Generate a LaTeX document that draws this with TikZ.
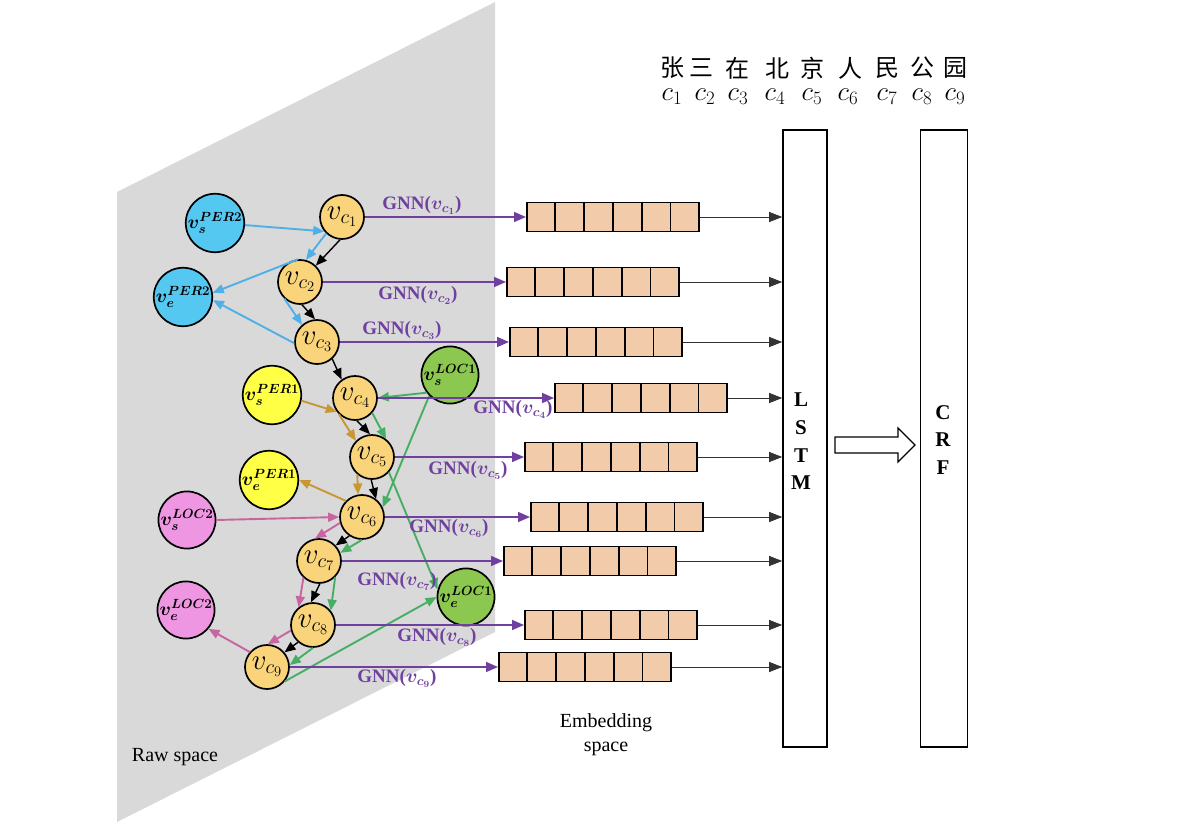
\RequirePackage{fix-cm}
\documentclass[tikz,border=0pt]{standalone}
\usepackage{amsmath}
\usepackage{fontspec}
\setmainfont{Liberation Serif}
\newfontfamily\cjk{Noto Sans CJK SC}
\usetikzlibrary{arrows.meta,calc}
\definecolor{graybg}{RGB}{217,217,217}
\definecolor{cfill}{RGB}{250,212,122}
\definecolor{cyanf}{RGB}{85,200,242}
\definecolor{yelf}{RGB}{255,255,70}
\definecolor{greenf}{RGB}{140,200,80}
\definecolor{pinkf}{RGB}{238,150,225}
\definecolor{boxf}{RGB}{242,203,170}
\definecolor{purp}{RGB}{112,64,160}
\definecolor{eblue}{RGB}{80,175,230}
\definecolor{egold}{RGB}{200,150,50}
\definecolor{egreen}{RGB}{70,175,100}
\definecolor{epink}{RGB}{200,100,160}
\tikzset{
  cn/.style={circle,draw,line width=1.7pt,fill=cfill,minimum size=44pt,inner sep=0pt,font=\fontsize{29}{30}\selectfont},
  en/.style={circle,draw,line width=1.7pt,minimum size=53pt,inner sep=0pt,font=\fontsize{19}{22}\selectfont},
  gnn/.style={text=purp,font=\bfseries\fontsize{19}{22}\selectfont,inner sep=0pt},
  emb/.style={draw,line width=1.6pt,fill=boxf,minimum width=172pt,minimum height=29pt,inner sep=0pt,anchor=west},
  tip/.style={-{Triangle[length=11pt,width=9pt]}},
  pa/.style={-{Triangle[length=12pt,width=10pt]},draw=purp,line width=1.6pt},
  ba/.style={tip,draw=black,line width=1.4pt},
  bl/.style={tip,draw=eblue,line width=1.9pt},
  go/.style={tip,draw=egold,line width=1.9pt},
  gr/.style={tip,draw=egreen,line width=1.9pt},
  pk/.style={tip,draw=epink,line width=1.9pt},
  la/.style={-{Triangle[length=13pt,width=10pt]},draw=black!80,line width=0.9pt},
  big/.style={draw,line width=1.6pt,minimum width=44pt,minimum height=617pt,inner sep=0pt},
  txt/.style={font=\fontsize{20}{24}\selectfont,inner sep=0pt},
  lt/.style={font=\bfseries\fontsize{21}{27.7}\selectfont,align=center,inner sep=0pt},
  hz/.style={font=\cjk\fontsize{24}{26}\selectfont,inner sep=0pt},
  ci/.style={font=\fontsize{27}{28}\selectfont,inner sep=0pt}
}
\begin{document}
\begin{tikzpicture}[x=1pt,y=-1pt]
\useasboundingbox (0,0) rectangle (1194,826);
\fill[graybg] (117,192) -- (495,2) -- (495,632) -- (117,822) -- cycle;

% character nodes
\node[cn] (c1) at (342,217) {$v_{c_1}$};
\node[cn] (c2) at (300,282) {$v_{c_2}$};
\node[cn] (c3) at (317,342) {$v_{c_3}$};
\node[cn] (c4) at (355,398) {$v_{c_4}$};
\node[cn] (c5) at (372,457) {$v_{c_5}$};
\node[cn] (c6) at (362,517) {$v_{c_6}$};
\node[cn] (c7) at (319,561) {$v_{c_7}$};
\node[cn] (c8) at (313,625) {$v_{c_8}$};
\node[cn] (c9) at (267,667) {$v_{c_9}$};

% entity nodes
\node[en,fill=cyanf] (sP2) at (215,223) {$\boldsymbol{v_s^{PER2}}$};
\node[en,fill=cyanf] (eP2) at (183,297) {$\boldsymbol{v_e^{PER2}}$};
\node[en,fill=yelf] (sP1) at (272,395) {$\boldsymbol{v_s^{PER1}}$};
\node[en,fill=yelf] (eP1) at (269,480) {$\boldsymbol{v_e^{PER1}}$};
\node[en,fill=greenf,minimum size=51pt] (sL1) at (450,375) {$\boldsymbol{v_s^{LOC1}}$};
\node[en,fill=greenf,minimum size=51pt] (eL1) at (466,597) {$\boldsymbol{v_e^{LOC1}}$};
\node[en,fill=pinkf,minimum size=55pt] (sL2) at (187,520) {$\boldsymbol{v_s^{LOC2}}$};
\node[en,fill=pinkf,minimum size=55pt] (eL2) at (186,610) {$\boldsymbol{v_e^{LOC2}}$};

% black sequence edges
\draw[ba] (c1.265) -- (c2.46);
\draw[ba] (c2.275) -- (c3.95);
\draw[ba] (c3.312) -- (c4.126);
\draw[ba] (c4.275) -- (c5.95);
\draw[ba] (c5.268) -- (c6.52);
\draw[ba] (c6.236) -- (c7.43);
\draw[ba] (c7.272) -- (c8.95);
\draw[ba] (c8.229) -- (c9.40);

% PER2 (blue)
\draw[bl] (sP2.356) -- (c1.219);
\draw[bl] (c1.226) -- (c2.75);
\draw[bl] (c2.95) -- (eP2.8);
\draw[bl] (c2.227) -- (c3.131);
\draw[bl] (c3.183) -- (eP2.-6);

% PER1 (gold)
\draw[go] (sP1.-11) -- (c4.217);
\draw[go] (c4.225) -- (c5.135);
\draw[go] (c5.230) -- (c6.100);
\draw[go] (c6.135) -- (eP1.0);

% LOC1 (green)
\draw[gr] (sL1.217) -- (c4.0);
\draw[gr] (sL1.225) -- (c6.25);
\draw[gr] (c4.319) -- (c5.52);
\draw[gr] (c5.318) -- (eL1.165);
\draw[gr] (c6.270) -- (c7.21);
\draw[gr] (c7.315) -- (c8.39);
\draw[gr] (c8.270) -- (c9.5);
\draw[gr] (c9.321) -- (eL1.180);

% LOC2 (pink)
\draw[pk] (sL2.east) -- (c6.180);
\draw[pk] (c6.195) -- (c7.100);
\draw[pk] (c7.227) -- (c8.129);
\draw[pk] (c8.194) -- (c9.88);
\draw[pk] (c9.139) -- (eL2.320);

% embedding boxes
\node[emb] (b1) at (526,217) {};
\node[emb] (b2) at (506,282) {};
\node[emb] (b3) at (509,342) {};
\node[emb] (b4) at (554,398) {};
\node[emb] (b5) at (524,457) {};
\node[emb] (b6) at (530,517) {};
\node[emb] (b7) at (503,561) {};
\node[emb] (b8) at (524,625) {};
\node[emb] (b9) at (498,667) {};
\foreach \i in {1,...,9}{
  \foreach \k in {1,...,5}{
    \draw[line width=1.6pt] ($(b\i.north west)!\k/6!(b\i.north east)$) -- ($(b\i.south west)!\k/6!(b\i.south east)$);
  }
}

% LSTM and CRF
\node[big] (lstm) at (805,438.5) {};
\node[big,minimum width=47pt] (crf) at (944,438.5) {};
\node[lt] (lstmtxt) at (801,441.5) {L\\S\\T\\M};
\node[lt] (crftxt) at (943,440) {C\\R\\F};
\coordinate (ha) at (835,445);
\draw[line width=1.2pt,fill=white] (ha) ++(0,-8) -- ++(63,0) -- ++(0,-9) -- (915,445) -- (898,462) -- ++(0,-9) -- ++(-63,0) -- cycle;

% GNN arrows
\foreach \i in {1,...,9}{
  \draw[pa] (c\i.east) -- (b\i.west);
  \draw[la] (b\i.east) -- (b\i.east -| lstm.west);
}
\node[gnn] (g1) at (422,205) {GNN($\boldsymbol{v_{c_1}}$)};
\node[gnn] (g2) at (418,295) {GNN($\boldsymbol{v_{c_2}}$)};
\node[gnn] (g3) at (402,330) {GNN($\boldsymbol{v_{c_3}}$)};
\node[gnn] (g4) at (513,409) {GNN($\boldsymbol{v_{c_4}}$)};
\node[gnn] (g5) at (468,470) {GNN($\boldsymbol{v_{c_5}}$)};
\node[gnn] (g6) at (449,528) {GNN($\boldsymbol{v_{c_6}}$)};
\node[gnn] (g7) at (397,581) {GNN($\boldsymbol{v_{c_7}}$)};
\node[gnn] (g8) at (437,637) {GNN($\boldsymbol{v_{c_8}}$)};
\node[gnn] (g9) at (397,678) {GNN($\boldsymbol{v_{c_9}}$)};

% top characters
\node[hz] (h1) at (672,68) {张};
\node[hz] (h2) at (701,68) {三};
\node[hz] (h3) at (737,68) {在};
\node[hz] (h4) at (777,68) {北};
\node[hz] (h5) at (812,68) {京};
\node[hz] (h6) at (850,68) {人};
\node[hz] (h7) at (887,68) {民};
\node[hz] (h8) at (922,68) {公};
\node[hz] (h9) at (955,68) {园};
\node[ci] (k1) at (672,97) {$c_1$};
\node[ci] (k2) at (705,97) {$c_2$};
\node[ci] (k3) at (738,97) {$c_3$};
\node[ci] (k4) at (775,97) {$c_4$};
\node[ci] (k5) at (812,97) {$c_5$};
\node[ci] (k6) at (848,97) {$c_6$};
\node[ci] (k7) at (887,97) {$c_7$};
\node[ci] (k8) at (922,97) {$c_8$};
\node[ci] (k9) at (955,97) {$c_9$};

% captions
\node[txt] (raw) at (175,757) {Raw space};
\node[txt,align=center,font=\fontsize{20}{24}\selectfont] (embt) at (606,735) {Embedding\\space};
\end{tikzpicture}
\end{document}
